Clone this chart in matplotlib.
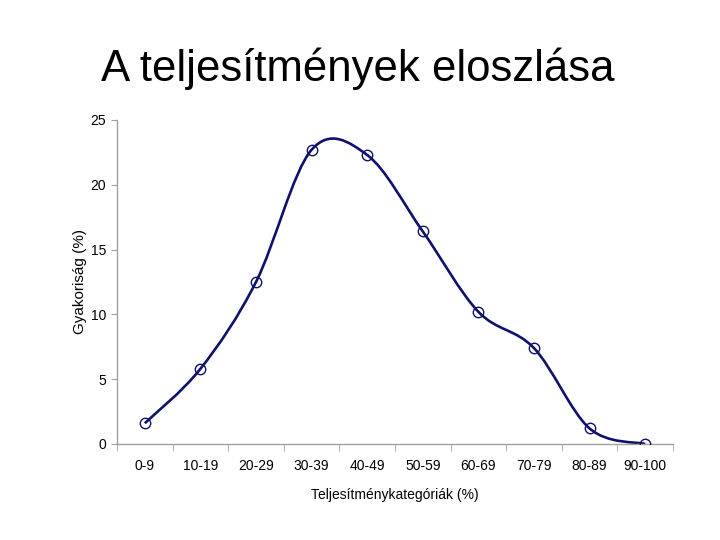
import numpy as np
import matplotlib
matplotlib.use("Agg")
import matplotlib.pyplot as plt
from matplotlib.path import Path
from matplotlib.patches import PathPatch

# data
categories = ["0-9", "10-19", "20-29", "30-39", "40-49",
              "50-59", "60-69", "70-79", "80-89", "90-100"]
frequency = [1.6, 5.8, 12.5, 22.7, 22.3, 16.4, 10.2, 7.4, 1.2, 0.0]

line_color = "#10106e"
axis_color = "#a0a0a0"

plt.rcParams["font.family"] = ["Liberation Sans", "DejaVu Sans"]

fig = plt.figure(figsize=(7.2, 5.4), dpi=100)
ax = fig.add_axes([0.1625, 0.1778, 0.7722, 0.6])

x = np.arange(len(categories))
y = np.array(frequency)

# smoothed line (Bezier segments, like a spreadsheet "smoothed line")
verts = [(x[0], y[0])]
codes = [Path.MOVETO]
n = len(x)
for i in range(n - 1):
    p0 = np.array([x[max(i - 1, 0)], y[max(i - 1, 0)]])
    p1 = np.array([x[i], y[i]])
    p2 = np.array([x[i + 1], y[i + 1]])
    p3 = np.array([x[min(i + 2, n - 1)], y[min(i + 2, n - 1)]])
    c1 = p1 + (p2 - p0) / 6
    c2 = p2 - (p3 - p1) / 6
    verts += [tuple(c1), tuple(c2), tuple(p2)]
    codes += [Path.CURVE4] * 3
ax.add_patch(PathPatch(Path(verts, codes), facecolor="none",
                       edgecolor=line_color, lw=1.9, zorder=2))
ax.plot(x, y, linestyle="none", marker="o", markersize=7.5,
        markerfacecolor="none", markeredgecolor=line_color,
        markeredgewidth=1.0, zorder=3)

ax.set_xlim(-0.5, n - 0.5)
ax.set_ylim(0, 25)
ax.set_yticks([0, 5, 10, 15, 20, 25])
ax.set_xticks(x)
ax.set_xticklabels(categories)
ax.set_xticks(np.arange(-0.5, n, 1), minor=True)
ax.tick_params(axis="x", which="major", length=0, pad=11, labelsize=10)
ax.tick_params(axis="x", which="minor", length=5, color=axis_color, direction="out")
ax.tick_params(axis="y", length=4, color=axis_color, pad=4, labelsize=10)

for side in ["top", "right"]:
    ax.spines[side].set_visible(False)
for side in ["left", "bottom"]:
    ax.spines[side].set_color(axis_color)
    ax.spines[side].set_linewidth(1.0)

ax.set_xlabel("Teljesítménykategóriák (%)", fontsize=10, labelpad=10.5)
ax.set_ylabel("Gyakoriság (%)", fontsize=11, labelpad=2)

fig.text(0.497, 0.873, "A teljesítmények eloszlása", ha="center", va="center",
         fontsize=31.5)

fig.savefig("out.png", dpi=100)
